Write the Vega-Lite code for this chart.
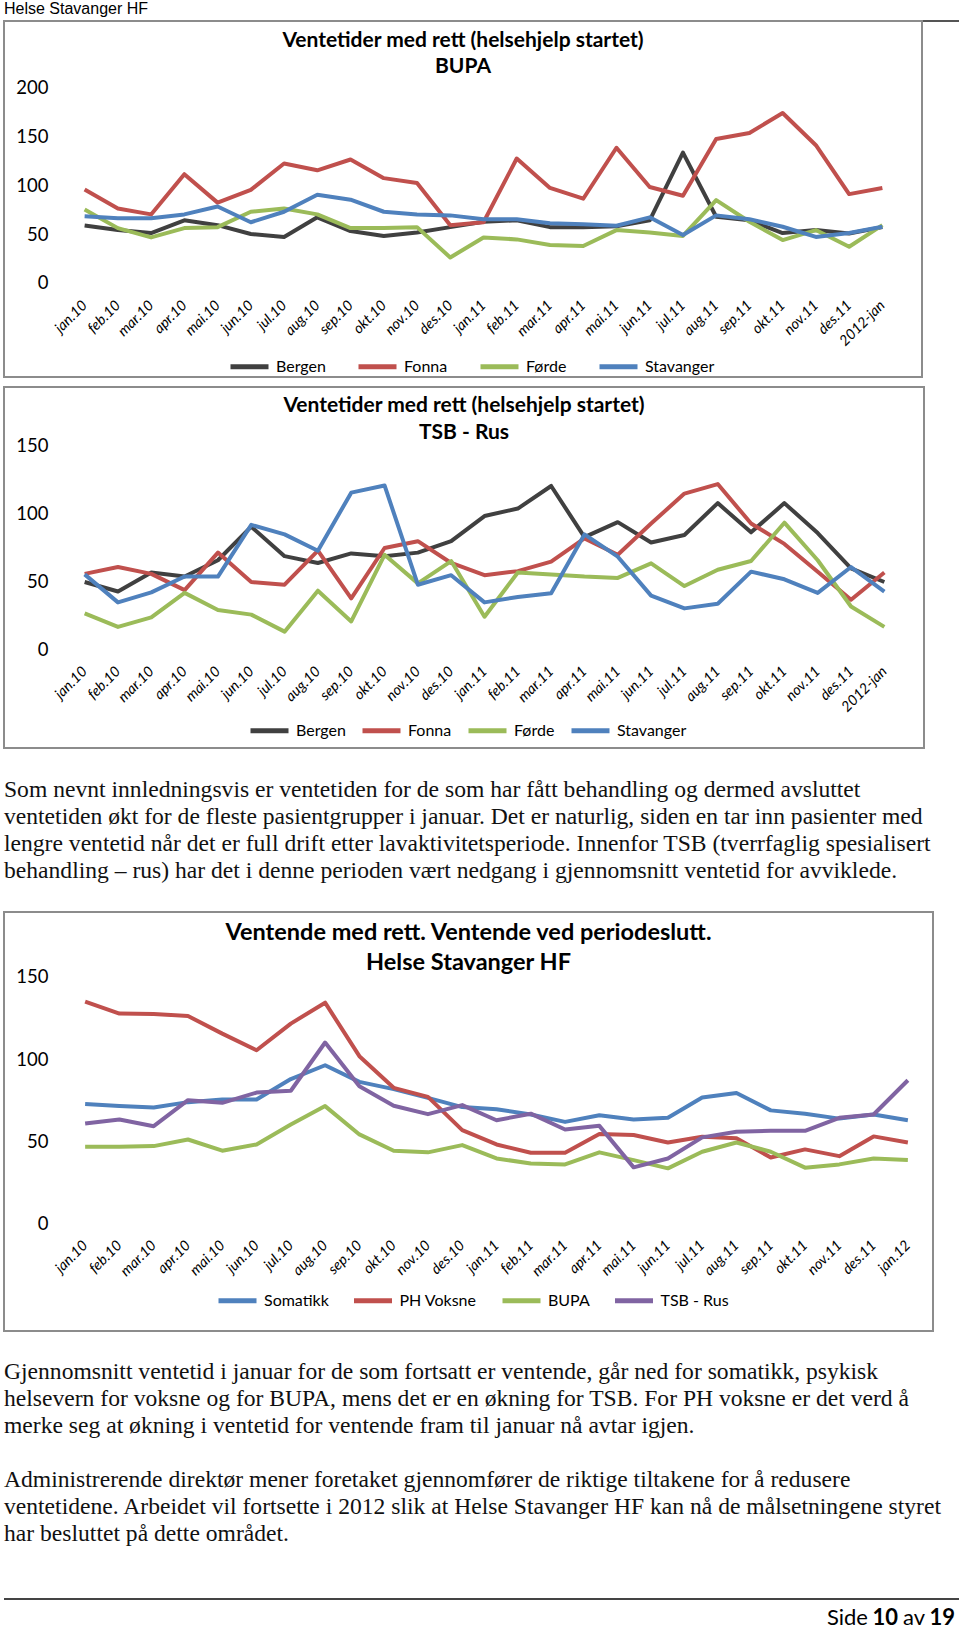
{
  "$schema": "https://vega.github.io/schema/vega-lite/v6.json",
  "padding": {"left": 3, "top": 0, "right": 0, "bottom": 0},
  "background": "white",
  "config": {"view": {"stroke": "#8c8c8c", "strokeWidth": 2}, "font": "Lato"},
  "resolve": {"scale": {"color": "independent", "x": "independent", "y": "independent"}, "legend": {"color": "independent"}, "axis": {"x": "independent", "y": "independent"}},
  "datasets": {
    "bupa": [
      {"i":0,"m":"jan.10","Bergen":58.7,"Fonna":95.4,"Førde":75,"Stavanger":68},
      {"i":1,"m":"feb.10","Bergen":54,"Fonna":76,"Førde":56,"Stavanger":66},
      {"i":2,"m":"mar.10","Bergen":51,"Fonna":70,"Førde":46.5,"Stavanger":66},
      {"i":3,"m":"apr.10","Bergen":64,"Fonna":111,"Førde":56,"Stavanger":70},
      {"i":4,"m":"mai.10","Bergen":59,"Fonna":82,"Førde":57,"Stavanger":78},
      {"i":5,"m":"jun.10","Bergen":50,"Fonna":95,"Førde":72.7,"Stavanger":62},
      {"i":6,"m":"jul.10","Bergen":47,"Fonna":122,"Førde":76,"Stavanger":72.7},
      {"i":7,"m":"aug.10","Bergen":67,"Fonna":115,"Førde":70,"Stavanger":90},
      {"i":8,"m":"sep.10","Bergen":53,"Fonna":126,"Førde":56,"Stavanger":85},
      {"i":9,"m":"okt.10","Bergen":48,"Fonna":107,"Førde":56,"Stavanger":72.7},
      {"i":10,"m":"nov.10","Bergen":51.6,"Fonna":102,"Førde":57,"Stavanger":70},
      {"i":11,"m":"des.10","Bergen":57,"Fonna":59,"Førde":26,"Stavanger":69},
      {"i":12,"m":"jan.11","Bergen":62.5,"Fonna":62,"Førde":46.5,"Stavanger":65},
      {"i":13,"m":"feb.11","Bergen":64,"Fonna":127,"Førde":44.5,"Stavanger":65},
      {"i":14,"m":"mar.11","Bergen":57,"Fonna":97,"Førde":38.7,"Stavanger":61},
      {"i":15,"m":"apr.11","Bergen":57,"Fonna":86,"Førde":37.7,"Stavanger":60},
      {"i":16,"m":"mai.11","Bergen":58,"Fonna":138,"Førde":54,"Stavanger":58.4},
      {"i":17,"m":"jun.11","Bergen":64,"Fonna":98,"Førde":51.6,"Stavanger":67},
      {"i":18,"m":"jul.11","Bergen":133,"Fonna":89,"Førde":48,"Stavanger":49},
      {"i":19,"m":"aug.11","Bergen":67.6,"Fonna":147,"Førde":84.5,"Stavanger":69},
      {"i":20,"m":"sep.11","Bergen":64,"Fonna":153,"Førde":62.5,"Stavanger":65},
      {"i":21,"m":"okt.11","Bergen":51,"Fonna":173.5,"Førde":43.8,"Stavanger":57.4},
      {"i":22,"m":"nov.11","Bergen":54,"Fonna":140.6,"Førde":54,"Stavanger":47},
      {"i":23,"m":"des.11","Bergen":50.6,"Fonna":90.7,"Førde":37,"Stavanger":51},
      {"i":24,"m":"2012-jan","Bergen":57,"Fonna":97,"Førde":59,"Stavanger":57.4}
    ],
    "tsb": [
      {"i":0,"m":"jan.10","Bergen":50,"Fonna":56,"Førde":27,"Stavanger":55.6},
      {"i":1,"m":"feb.10","Bergen":43,"Fonna":61,"Førde":17,"Stavanger":35},
      {"i":2,"m":"mar.10","Bergen":57,"Fonna":56,"Førde":24,"Stavanger":42.4},
      {"i":3,"m":"apr.10","Bergen":54,"Fonna":44,"Førde":42,"Stavanger":54},
      {"i":4,"m":"mai.10","Bergen":66,"Fonna":71.6,"Førde":29.4,"Stavanger":54},
      {"i":5,"m":"jun.10","Bergen":90.7,"Fonna":50,"Førde":26,"Stavanger":92},
      {"i":6,"m":"jul.10","Bergen":69,"Fonna":48,"Førde":13.5,"Stavanger":85},
      {"i":7,"m":"aug.10","Bergen":64,"Fonna":73,"Førde":43.6,"Stavanger":73},
      {"i":8,"m":"sep.10","Bergen":71,"Fonna":38,"Førde":21,"Stavanger":115.7},
      {"i":9,"m":"okt.10","Bergen":69,"Fonna":75,"Førde":70,"Stavanger":121},
      {"i":10,"m":"nov.10","Bergen":71.6,"Fonna":80,"Førde":49,"Stavanger":48},
      {"i":11,"m":"des.10","Bergen":80,"Fonna":64,"Førde":65.4,"Stavanger":55},
      {"i":12,"m":"jan.11","Bergen":98.5,"Fonna":55,"Førde":24.5,"Stavanger":35},
      {"i":13,"m":"feb.11","Bergen":104,"Fonna":58,"Førde":57,"Stavanger":39},
      {"i":14,"m":"mar.11","Bergen":120.6,"Fonna":65,"Førde":55.6,"Stavanger":41.7},
      {"i":15,"m":"apr.11","Bergen":83,"Fonna":82,"Førde":54,"Stavanger":85},
      {"i":16,"m":"mai.11","Bergen":94,"Fonna":70,"Førde":53,"Stavanger":68.6},
      {"i":17,"m":"jun.11","Bergen":79,"Fonna":93,"Førde":63.7,"Stavanger":40},
      {"i":18,"m":"jul.11","Bergen":84.6,"Fonna":115,"Førde":47,"Stavanger":30.6},
      {"i":19,"m":"aug.11","Bergen":108,"Fonna":122,"Førde":59,"Stavanger":34},
      {"i":20,"m":"sep.11","Bergen":86.5,"Fonna":93,"Førde":65.4,"Stavanger":57.6},
      {"i":21,"m":"okt.11","Bergen":108,"Fonna":78,"Førde":93.6,"Stavanger":52},
      {"i":22,"m":"nov.11","Bergen":86,"Fonna":57.6,"Førde":66,"Stavanger":42},
      {"i":23,"m":"des.11","Bergen":60,"Fonna":37,"Førde":32,"Stavanger":61},
      {"i":24,"m":"2012-jan","Bergen":50,"Fonna":57,"Førde":17,"Stavanger":43}
    ],
    "ventende": [
      {"i":0,"m":"jan.10","Somatikk":72.8,"PH Voksne":135,"BUPA":46.9,"TSB - Rus":61},
      {"i":1,"m":"feb.10","Somatikk":71.6,"PH Voksne":127.8,"BUPA":46.9,"TSB - Rus":63.5},
      {"i":2,"m":"mar.10","Somatikk":70.7,"PH Voksne":127.6,"BUPA":47.3,"TSB - Rus":59.4},
      {"i":3,"m":"apr.10","Somatikk":74,"PH Voksne":126.3,"BUPA":51.3,"TSB - Rus":75.2},
      {"i":4,"m":"mai.10","Somatikk":75.6,"PH Voksne":115.6,"BUPA":44.5,"TSB - Rus":73.6},
      {"i":5,"m":"jun.10","Somatikk":75.6,"PH Voksne":105.5,"BUPA":48.3,"TSB - Rus":79.8},
      {"i":6,"m":"jul.10","Somatikk":88,"PH Voksne":121.7,"BUPA":60.4,"TSB - Rus":80.9},
      {"i":7,"m":"aug.10","Somatikk":96.4,"PH Voksne":134.4,"BUPA":71.6,"TSB - Rus":110.2},
      {"i":8,"m":"sep.10","Somatikk":86.3,"PH Voksne":101.9,"BUPA":54.4,"TSB - Rus":83.7},
      {"i":9,"m":"okt.10","Somatikk":81.9,"PH Voksne":82.7,"BUPA":44.5,"TSB - Rus":71.8},
      {"i":10,"m":"nov.10","Somatikk":76.6,"PH Voksne":77.2,"BUPA":43.5,"TSB - Rus":66.7},
      {"i":11,"m":"des.10","Somatikk":71,"PH Voksne":57,"BUPA":47.9,"TSB - Rus":72.2},
      {"i":12,"m":"jan.11","Somatikk":69.7,"PH Voksne":48.3,"BUPA":39.8,"TSB - Rus":63},
      {"i":13,"m":"feb.11","Somatikk":66.5,"PH Voksne":43.3,"BUPA":36.8,"TSB - Rus":67},
      {"i":14,"m":"mar.11","Somatikk":62,"PH Voksne":43.3,"BUPA":36.2,"TSB - Rus":57.4},
      {"i":15,"m":"apr.11","Somatikk":66,"PH Voksne":54.6,"BUPA":43.5,"TSB - Rus":59.6},
      {"i":16,"m":"mai.11","Somatikk":63.5,"PH Voksne":54,"BUPA":38.8,"TSB - Rus":34.4},
      {"i":17,"m":"jun.11","Somatikk":64.5,"PH Voksne":49.5,"BUPA":33.8,"TSB - Rus":39.8},
      {"i":18,"m":"jul.11","Somatikk":76.8,"PH Voksne":53,"BUPA":43.9,"TSB - Rus":52.6},
      {"i":19,"m":"aug.11","Somatikk":79.6,"PH Voksne":52,"BUPA":49.5,"TSB - Rus":56},
      {"i":20,"m":"sep.11","Somatikk":69,"PH Voksne":40.4,"BUPA":43.9,"TSB - Rus":56.6},
      {"i":21,"m":"okt.11","Somatikk":67,"PH Voksne":45.3,"BUPA":34.2,"TSB - Rus":56.6},
      {"i":22,"m":"nov.11","Somatikk":64,"PH Voksne":41.2,"BUPA":36.2,"TSB - Rus":64.5},
      {"i":23,"m":"des.11","Somatikk":66.5,"PH Voksne":53.2,"BUPA":39.8,"TSB - Rus":66.5},
      {"i":24,"m":"jan.12","Somatikk":63,"PH Voksne":49.5,"BUPA":38.8,"TSB - Rus":87.3}
    ]
  },
  "spacing": 0,
  "bounds": "flush",
  "vconcat": [
    {
      "width": 955, "height": 21, "view": {"stroke": null},
      "layer": [
        {"data": {"values": [{"t": "Helse Stavanger HF"}]},
         "mark": {"type": "text", "align": "left", "baseline": "middle", "font": "Liberation Sans", "fontSize": 16, "color": "#000"},
         "encoding": {
           "x": {"datum": 0, "type": "quantitative", "scale": {"domain": [0, 1]}, "axis": null},
           "y": {"datum": 0.57, "type": "quantitative", "scale": {"domain": [0, 1]}, "axis": null},
           "text": {"field": "t"}}},
        {"data": {"values": [{"t": "linje"}]},
         "mark": {"type": "rule", "color": "#555555", "strokeWidth": 2},
         "encoding": {"y": {"datum": 0, "type": "quantitative"}}}
      ]
    },
    {
      "width": 918, "height": 356,
      "title": {"text": ["Ventetider med rett (helsehjelp startet)", "BUPA"], "anchor": "middle", "frame": "group", "offset": -56, "font": "Lato", "fontSize": 21, "fontWeight": "bold", "color": "#000", "lineHeight": 26},
      "encoding": {
        "x": {"field": "i", "type": "quantitative", "scale": {"domain": [-2.4254, 25.192], "nice": false, "zero": false},
          "axis": {"values": [0,1,2,3,4,5,6,7,8,9,10,11,12,13,14,15,16,17,18,19,20,21,22,23,24],
            "labelExpr": "['jan.10','feb.10','mar.10','apr.10','mai.10','jun.10','jul.10','aug.10','sep.10','okt.10','nov.10','des.10','jan.11','feb.11','mar.11','apr.11','mai.11','jun.11','jul.11','aug.11','sep.11','okt.11','nov.11','des.11','2012-jan'][datum.value]",
            "labelAngle": -45, "labelAlign": "right", "labelBaseline": "middle", "labelFont": "Lato", "labelFontStyle": "italic", "labelFontSize": 14.5, "labelColor": "#000", "labelPadding": 20, "labelOverlap": false, "labelBound": false, "labelFlush": false, "ticks": false, "domain": false, "grid": false, "title": null, "offset": -94}},
        "y": {"field": "v", "type": "quantitative", "scale": {"domain": [-95.92, 267.35], "nice": false, "zero": false},
          "axis": {"values": [0,50,100,150,200], "labelFont": "Lato", "labelFontSize": 18.5, "labelColor": "#000", "labelPadding": 20, "ticks": false, "domain": false, "grid": false, "title": null, "offset": -64, "labelFlush": false, "labelBound": false, "labelOverlap": false}}
      },
      "layer": [
        {"data": {"values": [{"v": 0}, {"v": 50}, {"v": 100}, {"v": 150}, {"v": 200}]},
         "mark": {"type": "rule", "color": "#878787", "strokeWidth": 1.3},
         "encoding": {"x": {"datum": -0.5}, "x2": {"datum": 24.5}}},
        {"data": {"name": "bupa"},
         "transform": [{"fold": ["Bergen", "Fonna", "Førde", "Stavanger"], "as": ["s", "v"]}],
         "mark": {"type": "line", "strokeWidth": 4, "strokeJoin": "round"},
         "encoding": {"color": {"field": "s", "type": "nominal",
           "scale": {"domain": ["Bergen", "Fonna", "Førde", "Stavanger"], "range": ["#404040", "#C0504D", "#9BBB59", "#4F81BD"]},
           "legend": {"title": null, "orient": "none", "legendX": 224, "legendY": 324, "direction": "horizontal", "symbolType": "stroke", "symbolStrokeWidth": 5, "symbolSize": 1444, "labelFont": "Lato", "labelFontSize": 16, "labelColor": "#000", "columnPadding": 22, "labelOffset": 5}}}}
      ]
    },
    {
      "width": 955, "height": 10, "view": {"stroke": null},
      "data": {"values": []},
      "mark": "text"
    },
    {
      "width": 920, "height": 361,
      "title": {"text": ["Ventetider med rett (helsehjelp startet)", "TSB - Rus"], "anchor": "middle", "frame": "group", "offset": -56, "font": "Lato", "fontSize": 21, "fontWeight": "bold", "color": "#000", "lineHeight": 27},
      "encoding": {
        "x": {"field": "i", "type": "quantitative", "scale": {"domain": [-2.4208, 25.19], "nice": false, "zero": false},
          "axis": {"values": [0,1,2,3,4,5,6,7,8,9,10,11,12,13,14,15,16,17,18,19,20,21,22,23,24],
            "labelExpr": "['jan.10','feb.10','mar.10','apr.10','mai.10','jun.10','jul.10','aug.10','sep.10','okt.10','nov.10','des.10','jan.11','feb.11','mar.11','apr.11','mai.11','jun.11','jul.11','aug.11','sep.11','okt.11','nov.11','des.11','2012-jan'][datum.value]",
            "labelAngle": -45, "labelAlign": "right", "labelBaseline": "middle", "labelFont": "Lato", "labelFontStyle": "italic", "labelFontSize": 14.5, "labelColor": "#000", "labelPadding": 19, "labelOverlap": false, "labelBound": false, "labelFlush": false, "ticks": false, "domain": false, "grid": false, "title": null, "offset": -98}},
        "y": {"field": "v", "type": "quantitative", "scale": {"domain": [-72.06, 193.38], "nice": false, "zero": false},
          "axis": {"values": [0,50,100,150], "labelFont": "Lato", "labelFontSize": 18.5, "labelColor": "#000", "labelPadding": 20, "ticks": false, "domain": false, "grid": false, "title": null, "offset": -64, "labelFlush": false, "labelBound": false, "labelOverlap": false}}
      },
      "layer": [
        {"data": {"values": [{"v": 0}, {"v": 50}, {"v": 100}, {"v": 150}]},
         "mark": {"type": "rule", "color": "#878787", "strokeWidth": 1.3},
         "encoding": {"x": {"datum": -0.5}, "x2": {"datum": 24.5}}},
        {"data": {"name": "tsb"},
         "transform": [{"fold": ["Bergen", "Fonna", "Førde", "Stavanger"], "as": ["s", "v"]}],
         "mark": {"type": "line", "strokeWidth": 4, "strokeJoin": "round"},
         "encoding": {"color": {"field": "s", "type": "nominal",
           "scale": {"domain": ["Bergen", "Fonna", "Førde", "Stavanger"], "range": ["#404040", "#C0504D", "#9BBB59", "#4F81BD"]},
           "legend": {"title": null, "orient": "none", "legendX": 244, "legendY": 322, "direction": "horizontal", "symbolType": "stroke", "symbolStrokeWidth": 5, "symbolSize": 1444, "labelFont": "Lato", "labelFontSize": 16, "labelColor": "#000", "columnPadding": 6, "labelOffset": 5}}}}
      ]
    },
    {
      "width": 955, "height": 164, "view": {"stroke": null},
      "data": {"values": [
        {"line": 0, "text": "Som nevnt innledningsvis er ventetiden for de som har fått behandling og dermed avsluttet"},
        {"line": 1, "text": "ventetiden økt for de fleste pasientgrupper i januar. Det er naturlig, siden en tar inn pasienter med"},
        {"line": 2, "text": "lengre ventetid når det er full drift etter lavaktivitetsperiode. Innenfor TSB (tverrfaglig spesialisert"},
        {"line": 3, "text": "behandling – rus) har det i denne perioden vært nedgang i gjennomsnitt ventetid for avviklede."}
      ]},
      "mark": {"type": "text", "align": "left", "baseline": "middle", "font": "Liberation Serif", "fontSize": 23.6, "color": "#111"},
      "encoding": {
        "x": {"datum": 0, "type": "quantitative", "scale": {"domain": [0, 1]}, "axis": null},
        "y": {"field": "line", "type": "quantitative", "scale": {"domain": [-1.556, 4.519], "reverse": true, "nice": false, "zero": false}, "axis": null},
        "text": {"field": "text"}
      }
    },
    {
      "width": 929, "height": 419,
      "title": {"text": ["Ventende med rett. Ventende ved periodeslutt.", "Helse Stavanger HF"], "anchor": "middle", "frame": "group", "offset": -62, "font": "Lato", "fontSize": 23.5, "fontWeight": "bold", "color": "#000", "lineHeight": 30},
      "encoding": {
        "x": {"field": "i", "type": "quantitative", "scale": {"domain": [-2.367, 24.733], "nice": false, "zero": false},
          "axis": {"values": [0,1,2,3,4,5,6,7,8,9,10,11,12,13,14,15,16,17,18,19,20,21,22,23,24],
            "labelExpr": "['jan.10','feb.10','mar.10','apr.10','mai.10','jun.10','jul.10','aug.10','sep.10','okt.10','nov.10','des.10','jan.11','feb.11','mar.11','apr.11','mai.11','jun.11','jul.11','aug.11','sep.11','okt.11','nov.11','des.11','jan.12'][datum.value]",
            "labelAngle": -45, "labelAlign": "right", "labelBaseline": "middle", "labelFont": "Lato", "labelFontStyle": "italic", "labelFontSize": 14.5, "labelColor": "#000", "labelPadding": 19, "labelOverlap": false, "labelBound": false, "labelFlush": false, "ticks": false, "domain": false, "grid": false, "title": null, "offset": -107}},
        "y": {"field": "v", "type": "quantitative", "scale": {"domain": [-64.98, 189.47], "nice": false, "zero": false},
          "axis": {"values": [0,50,100,150], "labelFont": "Lato", "labelFontSize": 18.5, "labelColor": "#000", "labelPadding": 20, "ticks": false, "domain": false, "grid": false, "title": null, "offset": -64, "labelFlush": false, "labelBound": false, "labelOverlap": false}}
      },
      "layer": [
        {"data": {"values": [{"v": 0}, {"v": 50}, {"v": 100}, {"v": 150}]},
         "mark": {"type": "rule", "color": "#878787", "strokeWidth": 1.3},
         "encoding": {"x": {"datum": -0.5}, "x2": {"datum": 24.5}}},
        {"data": {"name": "ventende"},
         "transform": [{"fold": ["Somatikk", "PH Voksne", "BUPA", "TSB - Rus"], "as": ["s", "v"]}],
         "mark": {"type": "line", "strokeWidth": 4, "strokeJoin": "round"},
         "encoding": {"color": {"field": "s", "type": "nominal",
           "scale": {"domain": ["Somatikk", "PH Voksne", "BUPA", "TSB - Rus"], "range": ["#4F81BD", "#C0504D", "#9BBB59", "#8064A2"]},
           "legend": {"title": null, "orient": "none", "legendX": 212, "legendY": 367, "direction": "horizontal", "symbolType": "stroke", "symbolStrokeWidth": 5, "symbolSize": 1444, "labelFont": "Lato", "labelFontSize": 16, "labelColor": "#000", "columnPadding": 14.5, "labelOffset": 5}}}}
      ]
    },
    {
      "width": 955, "height": 268, "view": {"stroke": null},
      "data": {"values": [
        {"line": 0, "text": "Gjennomsnitt ventetid i januar for de som fortsatt er ventende, går ned for somatikk, psykisk"},
        {"line": 1, "text": "helsevern for voksne og for BUPA, mens det er en økning for TSB.  For PH voksne er det verd å"},
        {"line": 2, "text": "merke seg at økning i ventetid for ventende fram til januar nå avtar igjen."},
        {"line": 4, "text": "Administrerende direktør mener foretaket gjennomfører de riktige tiltakene for å redusere"},
        {"line": 5, "text": "ventetidene. Arbeidet vil fortsette i 2012 slik at Helse Stavanger HF kan nå de målsetningene styret"},
        {"line": 6, "text": "har besluttet på dette området."}
      ]},
      "mark": {"type": "text", "align": "left", "baseline": "middle", "font": "Liberation Serif", "fontSize": 23.6, "color": "#111"},
      "encoding": {
        "x": {"datum": 0, "type": "quantitative", "scale": {"domain": [0, 1]}, "axis": null},
        "y": {"field": "line", "type": "quantitative", "scale": {"domain": [-1.5185, 8.4074], "reverse": true, "nice": false, "zero": false}, "axis": null},
        "text": {"field": "text"}
      }
    },
    {
      "width": 955, "height": 30, "view": {"stroke": null},
      "encoding": {
        "x": {"datum": 1, "type": "quantitative", "scale": {"domain": [0, 1]}, "axis": null},
        "y": {"datum": 0.367, "type": "quantitative", "scale": {"domain": [0, 1]}, "axis": null}
      },
      "layer": [
        {"data": {"values": [{"t": "linje"}]},
         "mark": {"type": "rule", "color": "#444444", "strokeWidth": 2},
         "encoding": {"x": null, "y": {"datum": 1, "type": "quantitative"}}},
        {"data": {"values": [{"t": "Side"}]},
         "mark": {"type": "text", "align": "right", "baseline": "middle", "font": "Lato", "fontSize": 22, "color": "#000", "dx": -91},
         "encoding": {"text": {"field": "t"}}},
        {"data": {"values": [{"t": "10"}]},
         "mark": {"type": "text", "align": "right", "baseline": "middle", "font": "Lato", "fontSize": 22, "fontWeight": "bold", "color": "#000", "dx": -61},
         "encoding": {"text": {"field": "t"}}},
        {"data": {"values": [{"t": "av"}]},
         "mark": {"type": "text", "align": "right", "baseline": "middle", "font": "Lato", "fontSize": 22, "color": "#000", "dx": -34},
         "encoding": {"text": {"field": "t"}}},
        {"data": {"values": [{"t": "19"}]},
         "mark": {"type": "text", "align": "right", "baseline": "middle", "font": "Lato", "fontSize": 22, "fontWeight": "bold", "color": "#000", "dx": -4},
         "encoding": {"text": {"field": "t"}}}
      ]
    }
  ]
}
